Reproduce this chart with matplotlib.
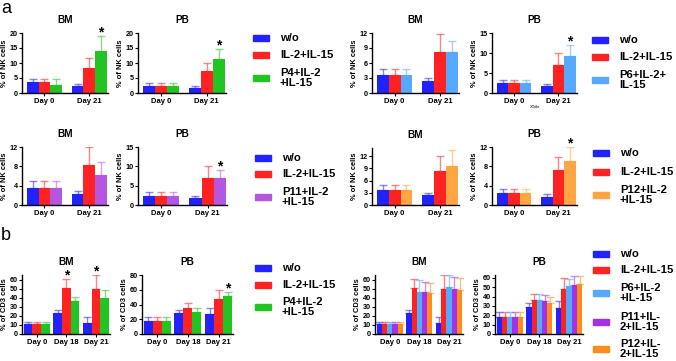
import matplotlib
matplotlib.use('Agg')
import matplotlib.pyplot as plt
from matplotlib.patches import Rectangle
import numpy as np

plt.rcParams['font.family'] = ['Liberation Sans', 'DejaVu Sans']
plt.rcParams['font.weight'] = 'bold'

W, H = 676, 361

# ---- data: rows = series, cols = days ----
days_a = ['Day 0', 'Day 21']
days_b = ['Day 0', 'Day 18', 'Day 21']

# a: % of NK cells
nk_p4_bm = [[3.6, 2.5], [3.6, 8.4], [2.6, 14.0]]
nk_p4_bm_err = [[1.1, 0.5], [1.1, 3.4], [2.1, 4.9]]
nk_p4_pb = [[2.5, 1.8], [2.5, 7.3], [2.5, 11.3]]
nk_p4_pb_err = [[1.0, 0.6], [1.0, 2.7], [1.0, 3.4]]

nk_p6_bm = [[3.6, 2.4], [3.6, 8.3], [3.6, 8.2]]
nk_p6_bm_err = [[1.3, 0.6], [1.3, 3.6], [1.3, 2.2]]
nk_p6_pb = [[2.4, 1.7], [2.4, 7.1], [2.4, 9.2]]
nk_p6_pb_err = [[0.9, 0.6], [0.9, 2.8], [0.9, 2.8]]

nk_p11_bm = [[3.5, 2.3], [3.5, 8.3], [3.5, 6.3]]
nk_p11_bm_err = [[1.4, 0.6], [1.4, 3.6], [1.4, 2.5]]
nk_p11_pb = [[2.4, 1.7], [2.4, 7.1], [2.4, 6.9]]
nk_p11_pb_err = [[0.9, 0.5], [0.9, 2.9], [0.9, 2.1]]

nk_p12_bm = [[3.6, 2.4], [3.6, 8.3], [3.6, 9.7]]
nk_p12_bm_err = [[1.2, 0.5], [1.2, 3.7], [1.2, 3.8]]
nk_p12_pb = [[2.4, 1.7], [2.4, 7.2], [2.4, 9.2]]
nk_p12_pb_err = [[0.9, 0.5], [0.9, 2.8], [0.9, 2.8]]

# b: % of CD3 cells
cd3_p4_bm = [[11, 23, 12], [11, 51, 50], [11, 36, 40]]
cd3_p4_bm_err = [[2, 3, 7], [2, 10, 15], [2, 5, 9]]
cd3_p4_pb = [[18, 29, 27], [18, 35, 47], [18, 30, 51]]
cd3_p4_pb_err = [[4.5, 3, 8.5], [4.5, 7, 13], [4.5, 5, 6]]

cd3_all_bm = [[11, 23, 12], [11, 51, 50], [11, 46.5, 52], [11, 46.5, 50], [11, 45.5, 48.5]]
cd3_all_bm_err = [[2, 3.5, 7], [2, 10, 14.5], [2, 12.5, 13], [2, 11, 13], [2, 10.5, 13.5]]
cd3_all_pb = [[18.5, 29, 27.5], [18.5, 36, 48], [18.5, 36, 51], [18.5, 35, 52], [18.5, 33.5, 53]]
cd3_all_pb_err = [[4.5, 4, 8], [4.5, 7, 12], [4.5, 6.5, 8], [4.5, 7, 10], [4.5, 6.5, 9]]

# colours
BLUE = '#2222ff'
RED = '#ff2222'
GREEN = '#22c422'
LBLUE = '#55aaff'
PURPLE_A = '#b456e0'
PURPLE_B = '#a431e6'
ORANGE_A = '#ffa544'
ORANGE_B = '#ff8c1a'

fig = plt.figure(figsize=(W / 100, H / 100), dpi=100)


def px_axes(left, top, right, bottom):
    return fig.add_axes([left / W, 1 - bottom / H, (right - left) / W, (bottom - top) / H])


def bar_panel(box, title, means, errs, colors, days, yticks, ytop, ylabel, stars=(), group_w=0.78):
    ax = px_axes(*box)
    means = np.array(means, dtype=float)
    errs = np.array(errs, dtype=float)
    n = means.shape[0]
    bw = group_w / n
    x = np.arange(len(days))
    for i in range(n):
        xs = x + (i - (n - 1) / 2) * bw
        ax.errorbar(xs, means[i], yerr=[np.zeros(len(days)), errs[i]], fmt='none',
                    ecolor=colors[i], alpha=0.55, elinewidth=1, capsize=2.6, capthick=1, zorder=1)
        ax.bar(xs, means[i], width=bw, color=colors[i], linewidth=0, zorder=2)
    # significance stars just above the error bar
    for g, s in stars:
        xs = g + (s - (n - 1) / 2) * bw
        ax.annotate('*', (xs, means[s][g] + errs[s][g]), xytext=(0, 2.5), textcoords='offset points',
                    ha='center', va='center', fontsize=10, fontweight='bold', annotation_clip=False)
    if len(days) == 2:
        ax.set_xlim(-0.5, 1.42)
    else:
        ax.set_xlim(-0.5, 2.47)
    ax.set_ylim(0, ytop)
    ax.set_yticks(yticks)
    ax.set_xticks(x)
    ax.set_xticklabels(days)
    for sp in ['top', 'right']:
        ax.spines[sp].set_visible(False)
    for sp in ['left', 'bottom']:
        ax.spines[sp].set_linewidth(1)
    ax.tick_params(axis='y', length=2, width=0.8, pad=1, labelsize=5.2)
    ax.tick_params(axis='x', length=2, width=0.8, pad=1.5, labelsize=5.5)
    ax.set_ylabel(ylabel, fontsize=5.4, fontweight='bold', labelpad=1)
    ax.set_title(title, fontsize=7.2, fontweight='bold', pad=7)
    return ax


def legend(x0, ys, labels, colors):
    for y, lab, c in zip(ys, labels, colors):
        fig.add_artist(Rectangle((x0 / W, 1 - (y + 3) / H), 16 / W, 6 / H, color=c,
                                 transform=fig.transFigure))
        fig.text((x0 + 27) / W, 1 - y / H, lab, ha='left', va='center', fontsize=8.1,
                 fontweight='bold', linespacing=1.12)


nk = '% of NK cells'
cd3 = '% of CD3 cells'
c_p4 = [BLUE, RED, GREEN]
c_p6 = [BLUE, RED, LBLUE]
c_p11 = [BLUE, RED, PURPLE_A]
c_p12 = [BLUE, RED, ORANGE_A]

# panel a, left column
bar_panel((22, 33, 108, 93), 'BM', nk_p4_bm, nk_p4_bm_err, c_p4, days_a, [0, 5, 10, 15, 20], 20, nk, [(1, 2)])
bar_panel((138, 33, 226, 93), 'PB', nk_p4_pb, nk_p4_pb_err, c_p4, days_a, [0, 5, 10, 15, 20], 20, nk, [(1, 2)])
bar_panel((22, 147, 108, 205), 'BM', nk_p11_bm, nk_p11_bm_err, c_p11, days_a, [0, 4, 8, 12], 12, nk)
bar_panel((138, 147, 227, 205), 'PB', nk_p11_pb, nk_p11_pb_err, c_p11, days_a, [0, 5, 10, 15], 15, nk, [(1, 2)])

# panel a, right column
bar_panel((372, 33, 459, 93), 'BM', nk_p6_bm, nk_p6_bm_err, c_p6, days_a, [0, 3, 6, 9, 12], 12, nk)
bar_panel((492, 33, 577, 93), 'PB', nk_p6_pb, nk_p6_pb_err, c_p6, days_a, [0, 5, 10, 15], 15, nk, [(1, 2)])
bar_panel((372, 148, 459, 205), 'BM', nk_p12_bm, nk_p12_bm_err, c_p12, days_a, [0, 3, 6, 9, 12], 14, nk)
bar_panel((492, 147, 577, 205), 'PB', nk_p12_pb, nk_p12_pb_err, c_p12, days_a, [0, 4, 8, 12], 12, nk, [(1, 2)])
fig.text(535 / W, 1 - 107 / H, 'XTitle', ha='center', va='center', fontsize=3, fontweight='normal')

# panel b
bar_panel((22, 275, 110, 334), 'BM', cd3_p4_bm, cd3_p4_bm_err, c_p4, days_b, range(0, 61, 10), 65, cd3,
          [(1, 1), (2, 1)], group_w=0.88)
bar_panel((142, 275, 233, 334), 'PB', cd3_p4_pb, cd3_p4_pb_err, c_p4, days_b, range(0, 81, 20), 80, cd3,
          [(2, 2)], group_w=0.88)
c_all = [BLUE, RED, LBLUE, PURPLE_B, ORANGE_B]
bar_panel((375, 275, 463, 334), 'BM', cd3_all_bm, cd3_all_bm_err, c_all, days_b, range(0, 61, 10), 65, cd3,
          group_w=0.88)
bar_panel((495, 275, 583, 334), 'PB', cd3_all_pb, cd3_all_pb_err, c_all, days_b, range(0, 61, 10), 63, cd3,
          group_w=0.88)

# legends
legend(253, [38, 55, 78], ['w/o', 'IL-2+IL-15', 'P4+IL-2\n+IL-15'], c_p4)
legend(255, [158, 174, 197], ['w/o', 'IL-2+IL-15', 'P11+IL-2\n+IL-15'], c_p11)
legend(592, [40, 57, 80], ['w/o', 'IL-2+IL-15', 'P6+IL-2+\nIL-15'], c_p6)
legend(593, [153, 172, 195], ['w/o', 'IL-2+IL-15', 'P12+IL-2\n+IL-15'], c_p12)
legend(255, [268, 285, 307], ['w/o', 'IL-2+IL-15', 'P4+IL-2\n+IL-15'], c_p4)
legend(593, [254, 270, 293, 322, 349], ['w/o', 'IL-2+IL-15', 'P6+IL-2\n+IL-15', 'P11+IL-\n2+IL-15',
                                        'P12+IL-\n2+IL-15'], c_all)

# panel letters
fig.text(1 / W, 1 - 0 / H, 'a', ha='left', va='top', fontsize=13, fontweight='normal')
fig.text(1 / W, 1 - 227 / H, 'b', ha='left', va='top', fontsize=13, fontweight='normal')

fig.savefig('out.png', dpi=100)
